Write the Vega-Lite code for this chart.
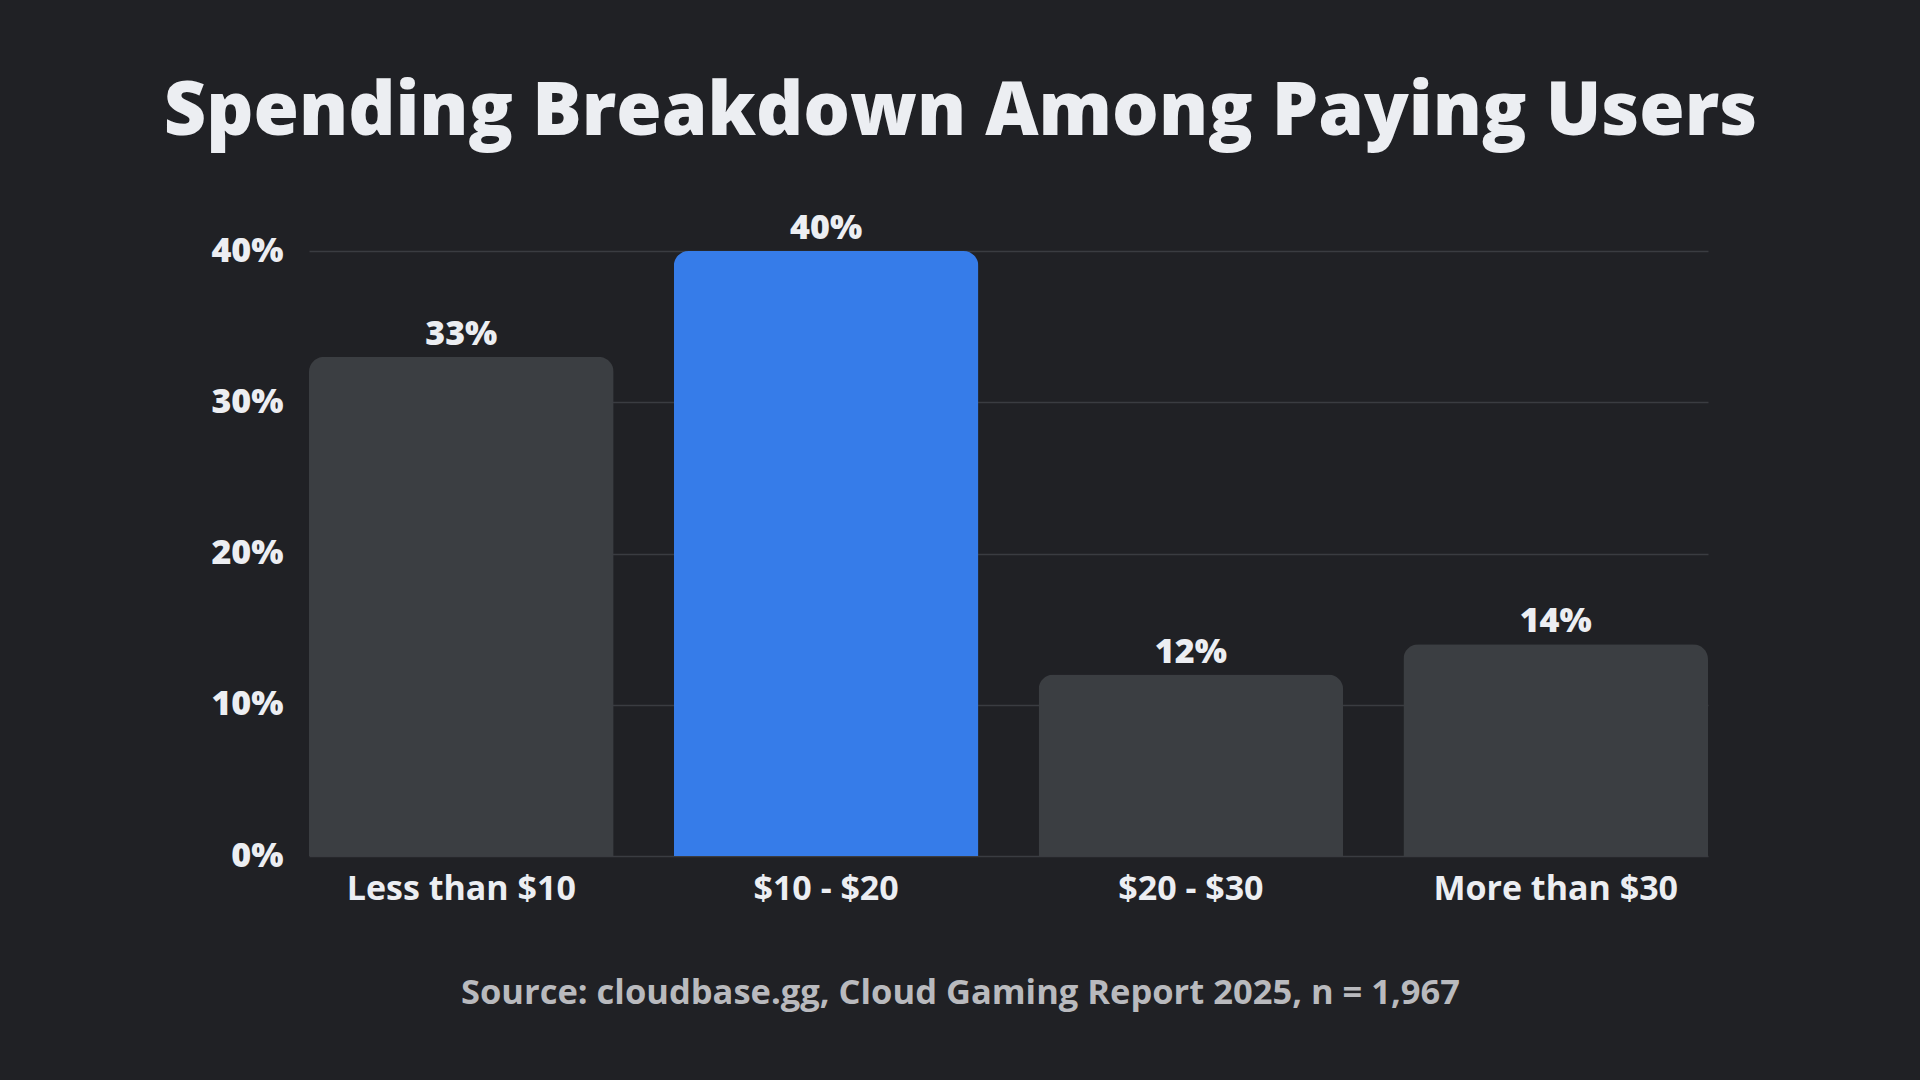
{
  "$schema": "https://vega.github.io/schema/vega-lite/v6.json",
  "autosize": {"type": "none"},
  "width": 1399,
  "height": 605,
  "padding": {"left": 309, "top": 251, "right": 212, "bottom": 224},
  "background": "#202125",
  "title": {
    "text": "Spending Breakdown Among Paying Users",
    "anchor": "middle",
    "dx": -48,
    "offset": 62,
    "font": "Open Sans",
    "fontWeight": 800,
    "fontSize": 73.5,
    "color": "#eceef2"
  },
  "data": {
    "values": [
      {"category": "Less than $10", "pct": 33, "highlight": "no"},
      {"category": "$10 - $20", "pct": 40, "highlight": "yes"},
      {"category": "$20 - $30", "pct": 12, "highlight": "no"},
      {"category": "More than $30", "pct": 14, "highlight": "no"}
    ]
  },
  "encoding": {
    "x": {
      "field": "category",
      "type": "nominal",
      "sort": null,
      "scale": {"paddingInner": 0.165, "paddingOuter": 0},
      "axis": {
        "title": "Source: cloudbase.gg, Cloud Gaming Report 2025, n = 1,967",
        "titleX": 651,
        "titlePadding": 70,
        "titleFont": "Open Sans",
        "titleFontWeight": 700,
        "titleFontSize": 34.5,
        "titleColor": "#b9babe",
        "labelAngle": 0,
        "labelLimit": 0,
        "labelFont": "Open Sans",
        "labelFontWeight": 700,
        "labelFontSize": 34,
        "labelColor": "#eceef2",
        "labelPadding": 16,
        "domain": false,
        "ticks": false,
        "grid": false
      }
    },
    "y": {
      "field": "pct",
      "type": "quantitative",
      "scale": {"domain": [0, 40]},
      "axis": {
        "title": null,
        "values": [0, 10, 20, 30, 40],
        "labelExpr": "datum.value + '%'",
        "labelFont": "Open Sans",
        "labelFontWeight": 800,
        "labelFontSize": 34,
        "labelColor": "#eceef2",
        "labelPadding": 26,
        "domain": false,
        "ticks": false,
        "grid": true,
        "gridColor": "#3a3c41",
        "gridWidth": 1.5
      }
    }
  },
  "layer": [
    {
      "mark": {"type": "bar", "cornerRadiusTopLeft": 15, "cornerRadiusTopRight": 15},
      "encoding": {
        "color": {
          "field": "highlight",
          "type": "nominal",
          "scale": {"domain": ["no", "yes"], "range": ["#3b3e42", "#367ce9"]},
          "legend": null
        }
      }
    },
    {
      "mark": {
        "type": "text",
        "dy": -22,
        "baseline": "middle",
        "font": "Open Sans",
        "fontWeight": 800,
        "fontSize": 34,
        "color": "#eceef2",
        "text": {"expr": "datum.pct + '%'"}
      },
      "encoding": {}
    }
  ],
  "config": {"view": {"stroke": null}}
}
